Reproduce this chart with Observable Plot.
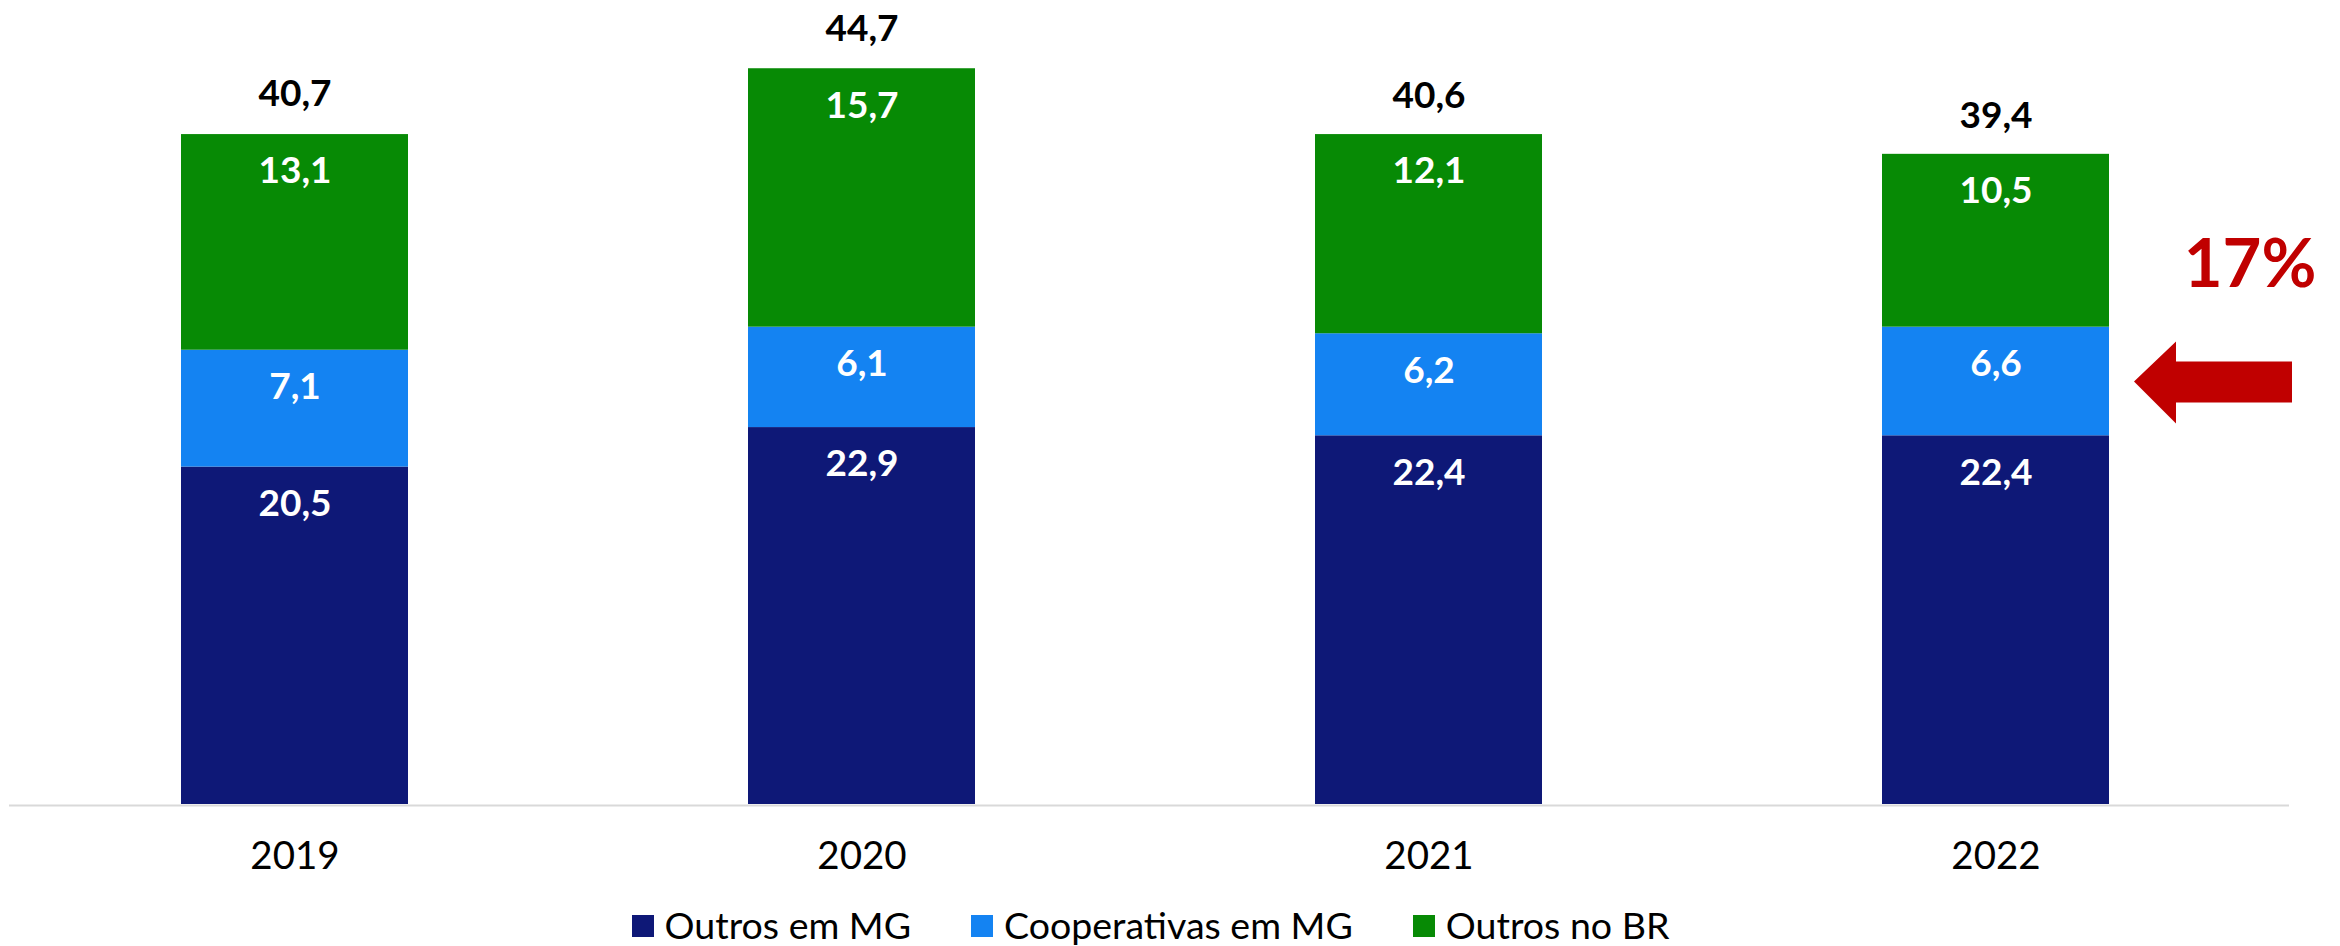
<!DOCTYPE html>
<html>
<head>
<meta charset="utf-8">
<script src="https://cdn.jsdelivr.net/npm/d3@7"></script>
<script src="https://cdn.jsdelivr.net/npm/@observablehq/plot@0.6"></script>
<style>
  html, body { margin: 0; padding: 0; background: #fff; }
  body { width: 2340px; height: 946px; overflow: hidden; font-family: Lato, "Open Sans", sans-serif; }
  #legend { display: flex; justify-content: center; align-items: center; height: 44px; padding-right: 39px; font-size: 37.5px; color: #000; }
  .item { display: flex; align-items: center; margin: 0 30px; }
  .sw { width: 22px; height: 22px; margin-right: 11px; margin-top: 4px; }
</style>
</head>
<body>
<div id="chart"></div>
<div id="legend"></div>
<script>
const years = ["2019", "2020", "2021", "2022"];
const series = ["Outros em MG", "Cooperativas em MG", "Outros no BR"];
const outrosMG = [20.5, 22.9, 22.4, 22.4];
const cooperativasMG = [7.1, 6.1, 6.2, 6.6];
const outrosBR = [13.1, 15.7, 12.1, 10.5];
const totals = [40.7, 44.7, 40.6, 39.4];
const colors = ["#0e1877", "#1483f2", "#078a05"];
const highlightYear = "2022";
const highlightText = "17%";

const values = [outrosMG, cooperativasMG, outrosBR];
const rows = [];
series.forEach((s, i) => years.forEach((yr, j) => rows.push({year: yr, series: s, value: values[i][j]})));
const totalRows = years.map((yr, j) => ({year: yr, total: totals[j]}));
const fmt = d => d.toFixed(1).replace(".", ",");

const hIdx = years.indexOf(highlightYear);
const highlight = [{year: highlightYear, y: outrosMG[hIdx] + cooperativasMG[hIdx] / 2, text: highlightText}];

const arrowSymbol = {
  draw(ctx) {
    ctx.moveTo(0, 0);
    ctx.lineTo(42, -40);
    ctx.lineTo(42, -20);
    ctx.lineTo(158, -20);
    ctx.lineTo(158, 21);
    ctx.lineTo(42, 21);
    ctx.lineTo(42, 42);
    ctx.closePath();
  }
};

const pxPerUnit = 16.46;
const base = 804;
const chart = Plot.plot({
  width: 2340,
  height: 902,
  marginLeft: 9,
  marginRight: 51,
  marginTop: 0,
  marginBottom: 98,
  style: {fontFamily: "Lato, 'Open Sans', sans-serif", color: "#000", background: "#fff"},
  x: {type: "band", domain: years, range: [9.75, 2279.75], paddingInner: 0.6, paddingOuter: 0.3, label: null},
  y: {domain: [0, 48], range: [base, base - 48 * pxPerUnit], axis: null},
  color: {domain: series, range: colors},
  marks: [
    Plot.barY(rows, {x: "year", y: "value", z: "series", fill: "series", order: null}),
    Plot.ruleY([0], {stroke: "#d9d9d9", strokeWidth: 2, dy: 1}),
    Plot.text(rows, Plot.stackY2({x: "year", y: "value", z: "series", order: null, text: d => fmt(d.value), fill: "#fff", fontSize: 37, fontWeight: "bold", dy: 37, lineAnchor: "middle"})),
    Plot.text(totalRows, {x: "year", y: "total", text: d => fmt(d.total), fill: "#000", fontSize: 37, fontWeight: "bold", dy: -40, lineAnchor: "middle"}),
    Plot.dot(highlight, {x: "year", y: "y", symbol: arrowSymbol, fill: "#c00000", stroke: "none", dx: 138}),
    Plot.text(highlight, {x: "year", y: "y", text: "text", fill: "#c00000", fontSize: 67, fontWeight: "bold", dx: 254, dy: -116, lineAnchor: "middle"}),
    Plot.axisX({tickSize: 0, tickPadding: 37, fontSize: 38.5, fill: "#000"})
  ]
});
document.getElementById("chart").appendChild(chart);

const legend = d3.select("#legend");
series.forEach((s, i) => {
  const it = legend.append("div").attr("class", "item");
  it.append("div").attr("class", "sw").style("background", colors[i]);
  it.append("span").text(s);
});
</script>
</body>
</html>
